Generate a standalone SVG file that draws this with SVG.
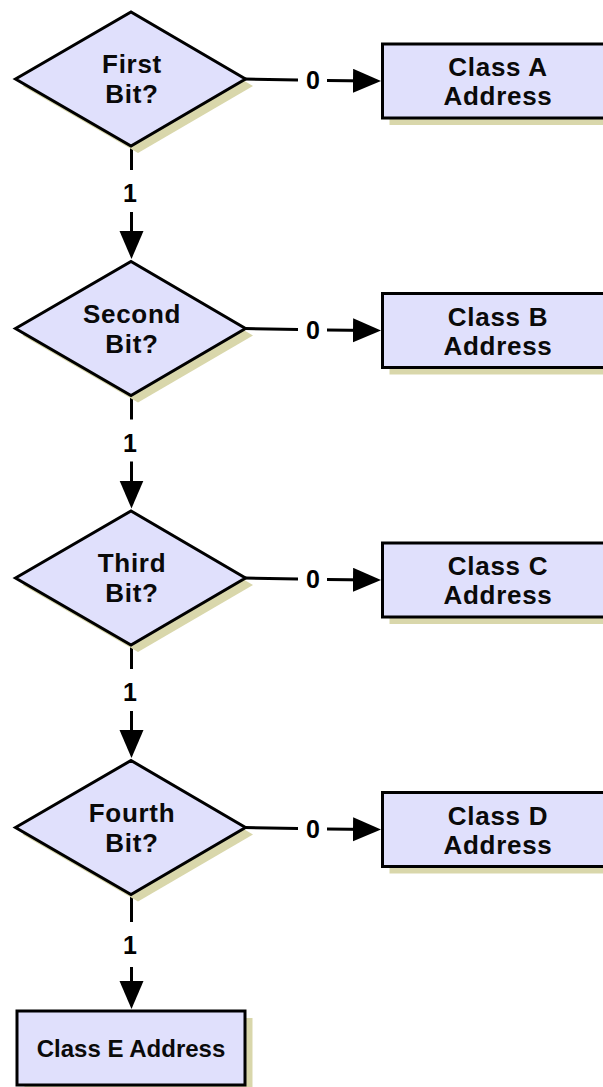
<svg xmlns="http://www.w3.org/2000/svg" width="603" height="1087" viewBox="0 0 603 1087">
<style>
.shadow{fill:#d9d7ab;stroke:none}
.node{fill:#e0e0fc;stroke:#000;stroke-width:3;stroke-linejoin:miter}
.t{font-family:"Liberation Sans",Arial,sans-serif;font-weight:bold;font-size:26px;fill:#0a0a0a;text-anchor:middle;letter-spacing:0.7px}
.tE{font-size:24px;letter-spacing:0px}
.lbl{font-family:"Liberation Sans",Arial,sans-serif;font-weight:bold;font-size:25px;fill:#000;text-anchor:middle}
.c{stroke:#000;stroke-width:3;fill:none}
</style>
<defs>
<marker id="ah" markerUnits="userSpaceOnUse" markerWidth="30" markerHeight="26" refX="18" refY="12" orient="auto">
<path d="M0,0 L28,12 L0,24 Z" fill="#000"/>
</marker>
</defs>
<rect width="603" height="1087" fill="#fff"/>

<g id="connectors">
<line class="c" x1="245" y1="79" x2="298" y2="80"/>
<line class="c" x1="327" y1="80.5" x2="371" y2="81" marker-end="url(#ah)"/>
<text class="lbl" x="313" y="89">0</text>
<line class="c" x1="245" y1="328.5" x2="298" y2="329.5"/>
<line class="c" x1="327" y1="330" x2="371" y2="330.5" marker-end="url(#ah)"/>
<text class="lbl" x="313" y="338.5">0</text>
<line class="c" x1="245" y1="578" x2="298" y2="579"/>
<line class="c" x1="327" y1="579.5" x2="371" y2="580" marker-end="url(#ah)"/>
<text class="lbl" x="313" y="588">0</text>
<line class="c" x1="245" y1="827.5" x2="298" y2="828.5"/>
<line class="c" x1="327" y1="829" x2="371" y2="829.5" marker-end="url(#ah)"/>
<text class="lbl" x="313" y="837.5">0</text>
<line class="c" x1="131.5" y1="146" x2="131.5" y2="170"/>
<line class="c" x1="131.5" y1="212" x2="131.5" y2="249" marker-end="url(#ah)"/>
<text class="lbl" x="130" y="202">1</text>
<line class="c" x1="131.5" y1="395.5" x2="131.5" y2="419.5"/>
<line class="c" x1="131.5" y1="461.5" x2="131.5" y2="498.5" marker-end="url(#ah)"/>
<text class="lbl" x="130" y="451.5">1</text>
<line class="c" x1="131.5" y1="645" x2="131.5" y2="669"/>
<line class="c" x1="131.5" y1="711" x2="131.5" y2="748" marker-end="url(#ah)"/>
<text class="lbl" x="130" y="701">1</text>
<line class="c" x1="131.5" y1="894.5" x2="131.5" y2="922"/>
<line class="c" x1="131.5" y1="967" x2="131.5" y2="999" marker-end="url(#ah)"/>
<text class="lbl" x="130" y="954">1</text>
</g>

<g id="first-bit">
<polygon class="shadow" points="22.5,86 138,19 253,86 138,153"/>
<polygon class="node" points="15.5,79 131,12 245.5,79 131,146"/>
<text class="t" x="132" y="73">First</text>
<text class="t" x="132" y="103">Bit?</text>
</g>
<g id="class-a">
<rect class="shadow" x="389.5" y="51" width="228" height="74"/>
<rect class="node" x="382.5" y="44" width="228" height="74"/>
<text class="t" x="498" y="76">Class A</text>
<text class="t" x="498" y="105">Address</text>
</g>

<g id="second-bit">
<polygon class="shadow" points="22.5,335.5 138,268.5 253,335.5 138,402.5"/>
<polygon class="node" points="15.5,328.5 131,261.5 245.5,328.5 131,395.5"/>
<text class="t" x="132" y="322.5">Second</text>
<text class="t" x="132" y="352.5">Bit?</text>
</g>
<g id="class-b">
<rect class="shadow" x="389.5" y="300.5" width="228" height="74"/>
<rect class="node" x="382.5" y="293.5" width="228" height="74"/>
<text class="t" x="498" y="325.5">Class B</text>
<text class="t" x="498" y="354.5">Address</text>
</g>

<g id="third-bit">
<polygon class="shadow" points="22.5,585 138,518 253,585 138,652"/>
<polygon class="node" points="15.5,578 131,511 245.5,578 131,645"/>
<text class="t" x="132" y="572">Third</text>
<text class="t" x="132" y="602">Bit?</text>
</g>
<g id="class-c">
<rect class="shadow" x="389.5" y="550" width="228" height="74"/>
<rect class="node" x="382.5" y="543" width="228" height="74"/>
<text class="t" x="498" y="575">Class C</text>
<text class="t" x="498" y="604">Address</text>
</g>

<g id="fourth-bit">
<polygon class="shadow" points="22.5,834.5 138,767.5 253,834.5 138,901.5"/>
<polygon class="node" points="15.5,827.5 131,760.5 245.5,827.5 131,894.5"/>
<text class="t" x="132" y="821.5">Fourth</text>
<text class="t" x="132" y="851.5">Bit?</text>
</g>
<g id="class-d">
<rect class="shadow" x="389.5" y="799.5" width="228" height="74"/>
<rect class="node" x="382.5" y="792.5" width="228" height="74"/>
<text class="t" x="498" y="824.5">Class D</text>
<text class="t" x="498" y="853.5">Address</text>
</g>

<g id="class-e">
<rect class="shadow" x="24.5" y="1018" width="228" height="74"/>
<rect class="node" x="17" y="1011" width="228" height="74"/>
<text class="t tE" x="131" y="1057">Class E Address</text>
</g>
</svg>
